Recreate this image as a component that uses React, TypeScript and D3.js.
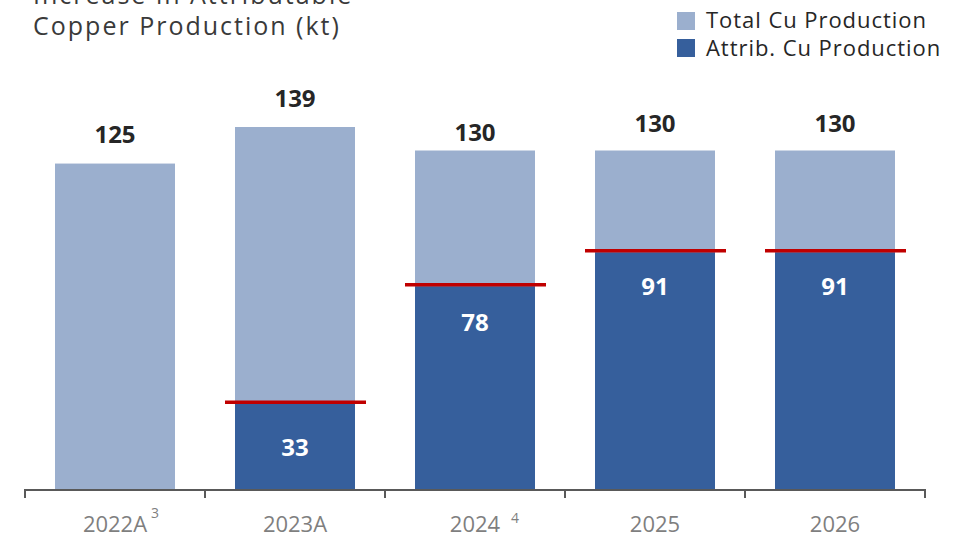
import React from "react";
import * as d3 from "d3";

const categories = ["2022A", "2023A", "2024", "2025", "2026"];
const superscripts = ["3", "", "4", "", ""];
const totalValues = [125, 139, 130, 130, 130];
const attribValues: (number | null)[] = [null, 33, 78, 91, 91];
const legendLabels = ["Total Cu Production", "Attrib. Cu Production"];
const titleLines = ["Increase in Attributable", "Copper Production (kt)"];

// style-only offsets (px) for label placement, mirroring the reference
const totalLabelLift = [21, 20, 10, 19, 19];
const attribLabelDrop = [0, 0, 45, 43, 43]; // 0 => centred in bar
const supDx = [36, 0, 36, 0, 0];
const supY = [518, 0, 523, 0, 0];

const W = 963;
const H = 537;
const LIGHT = "#9BAFCE";
const DARK = "#365F9C";
const RED = "#C00000";
const FONT = "'Open Sans', 'Noto Sans', sans-serif";

export default function App() {
  const x = d3
    .scaleBand<string>()
    .domain(categories)
    .range([25, 925])
    .paddingInner(1 / 3)
    .paddingOuter(1 / 6);
  const y = d3.scaleLinear().domain([0, 130]).range([490, 150.5]);
  const step = x.step();
  const edges = d3.range(categories.length + 1).map((i) => 25 + i * step);

  return (
    <svg
      width={W}
      height={H}
      style={{ position: "absolute", left: 0, top: 0, background: "#fff" }}
      fontFamily={FONT}
    >
      {titleLines.map((t, i) => (
        <text key={t} x={33} y={4 + i * 31} fontSize={25} fill="#3a3a3a" letterSpacing={2}>
          {t}
        </text>
      ))}

      {legendLabels.map((l, i) => (
        <g key={l}>
          <rect x={677} y={12 + i * 27} width={18} height={18} fill={i === 0 ? LIGHT : DARK} />
          <text x={706} y={28 + i * 27.5} fontSize={22} fill="#262626" letterSpacing={0.95}>
            {l}
          </text>
        </g>
      ))}

      {categories.map((c, i) => {
        const bx = x(c)!;
        const bw = x.bandwidth();
        const tv = totalValues[i];
        const av = attribValues[i];
        return (
          <g key={c}>
            <rect x={bx} y={y(tv)} width={bw} height={y(0) - y(tv)} fill={LIGHT} />
            <text
              x={bx + bw / 2}
              y={y(tv) - totalLabelLift[i]}
              textAnchor="middle"
              fontSize={24}
              fontWeight="bold"
              fill="#262626"
            >
              {tv}
            </text>
            {av != null && (
              <g>
                <rect x={bx} y={y(av)} width={bw} height={y(0) - y(av)} fill={DARK} />
                <line x1={bx - 10} x2={bx + bw + 11} y1={y(av) - 1.5} y2={y(av) - 1.5} stroke={RED} strokeWidth={3.5} />
                <text
                  x={bx + bw / 2}
                  y={attribLabelDrop[i] ? y(av) + attribLabelDrop[i] : (y(av) + y(0)) / 2}
                  dy={attribLabelDrop[i] ? 0 : "0.36em"}
                  textAnchor="middle"
                  fontSize={24}
                  fontWeight="bold"
                  fill="#fff"
                >
                  {av}
                </text>
              </g>
            )}
          </g>
        );
      })}

      <line x1={25} x2={925} y1={490} y2={490} stroke="#595959" strokeWidth={2} />
      {edges.map((e, i) => (
        <line key={i} x1={e} x2={e} y1={489} y2={498} stroke="#595959" strokeWidth={2} />
      ))}
      {categories.map((c, i) => {
        const cx = x(c)! + x.bandwidth() / 2;
        return (
          <g key={c}>
            <text x={cx} y={532} textAnchor="middle" fontSize={22} fill="#7F7F7F">
              {c}
            </text>
            {superscripts[i] && (
              <text x={cx + supDx[i]} y={supY[i]} fontSize={14} fill="#7F7F7F">
                {superscripts[i]}
              </text>
            )}
          </g>
        );
      })}
    </svg>
  );
}
